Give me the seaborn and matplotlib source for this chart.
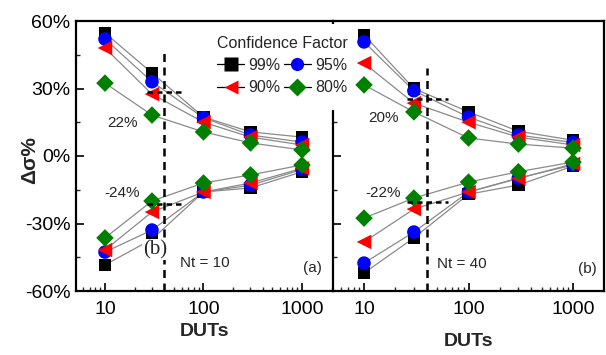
import numpy as np
import pandas as pd
import matplotlib
matplotlib.use("Agg")
import matplotlib.pyplot as plt
from matplotlib.lines import Line2D
from matplotlib.patches import Rectangle
from matplotlib.ticker import FixedLocator, FuncFormatter, LogLocator, NullFormatter
import seaborn as sns

sns.set_theme(style="white")
plt.rcParams["font.family"] = ["Liberation Sans", "DejaVu Sans"]

# Number of devices under test
duts = [10, 30, 100, 300, 1000]
confidence = ["99%", "95%", "90%", "80%"]

# Panel (a): Nt = 10 -- upper / lower bound of the sigma error (%)
a_upper_99 = [54.7, 36.9, 17.3, 10.7, 8.4]
a_upper_95 = [52.0, 33.0, 17.0, 9.3, 6.2]
a_upper_90 = [48.0, 27.5, 15.0, 8.4, 4.9]
a_upper_80 = [32.4, 18.2, 10.7, 5.8, 2.7]
a_lower_99 = [-48.4, -37.0, -16.0, -14.2, -7.0]
a_lower_95 = [-42.7, -32.9, -16.0, -13.0, -6.0]
a_lower_90 = [-41.8, -24.9, -16.0, -12.0, -5.5]
a_lower_80 = [-36.4, -20.0, -12.0, -8.4, -4.0]

# Panel (b): Nt = 40
b_upper_99 = [53.8, 30.0, 19.6, 11.0, 7.0]
b_upper_95 = [50.7, 29.0, 17.3, 9.3, 6.0]
b_upper_90 = [41.3, 23.5, 15.0, 8.4, 4.9]
b_upper_80 = [31.6, 19.6, 8.0, 5.3, 3.5]
b_lower_99 = [-52.0, -36.4, -17.0, -12.9, -4.5]
b_lower_95 = [-47.6, -33.8, -16.0, -9.8, -4.0]
b_lower_90 = [-38.2, -23.6, -16.0, -10.0, -3.5]
b_lower_80 = [-27.6, -18.7, -11.6, -7.0, -2.7]

# Reference cut at 40 DUTs and the bound reached there
cut_duts = 40
a_cut_bounds = [28.4, -21.5]
b_cut_bounds = [25.3, -20.5]
a_cut_labels = ["22%", "-24%"]
b_cut_labels = ["20%", "-22%"]

styles = {
    "99%": dict(marker="s", color="black", s=80),
    "95%": dict(marker="o", color="blue", s=95),
    "90%": dict(marker="<", color="red", s=110),
    "80%": dict(marker="D", color="green", s=80),
}


def build_frame(upper, lower):
    rows = []
    for cf, up, lo in zip(confidence, upper, lower):
        for x, u, l in zip(duts, up, lo):
            rows.append(dict(cf=cf, duts=x, branch="upper", dsigma=u))
            rows.append(dict(cf=cf, duts=x, branch="lower", dsigma=l))
    return pd.DataFrame(rows)


frame_a = build_frame([a_upper_99, a_upper_95, a_upper_90, a_upper_80],
                      [a_lower_99, a_lower_95, a_lower_90, a_lower_80])
frame_b = build_frame([b_upper_99, b_upper_95, b_upper_90, b_upper_80],
                      [b_lower_99, b_lower_95, b_lower_90, b_lower_80])

fig = plt.figure(figsize=(6.06, 3.55), dpi=100)
ax_a = fig.add_axes([76 / 606, 64 / 355, 257 / 606, 270 / 355])
ax_b = fig.add_axes([333 / 606, 64 / 355, 271 / 606, 270 / 355])


def draw_panel(ax, df, xlim):
    for cf in confidence:
        for branch in ["upper", "lower"]:
            sub = df[(df.cf == cf) & (df.branch == branch)]
            sns.lineplot(data=sub, x="duts", y="dsigma", ax=ax, color="#8a8a8a",
                         lw=0.9, estimator=None, sort=False, legend=False, zorder=2)
    for cf in confidence:
        st = styles[cf]
        sub = df[df.cf == cf]
        sns.scatterplot(data=sub, x="duts", y="dsigma", ax=ax, marker=st["marker"],
                        color=st["color"], s=st["s"], edgecolor="none",
                        legend=False, zorder=3)
    ax.set_xscale("log")
    ax.set_xlim(*xlim)
    ax.set_ylim(-60, 60)
    ax.xaxis.set_major_locator(FixedLocator([10, 100, 1000]))
    ax.xaxis.set_major_formatter(FuncFormatter(lambda v, p: f"{int(v)}"))
    ax.xaxis.set_minor_locator(LogLocator(base=10, subs=np.arange(2, 10)))
    ax.xaxis.set_minor_formatter(NullFormatter())
    ax.yaxis.set_major_locator(FixedLocator([-60, -30, 0, 30, 60]))
    ax.yaxis.set_minor_locator(FixedLocator([-45, -15, 15, 45]))
    ax.yaxis.set_major_formatter(FuncFormatter(lambda v, p: f"{int(v)}%"))
    ax.tick_params(which="major", direction="in", length=6, width=1.2,
                   labelsize=14, colors="black", pad=4)
    ax.tick_params(axis="x", which="major", pad=7)
    ax.tick_params(which="minor", direction="in", length=3, width=1.0)
    ax.tick_params(axis="x", which="both", bottom=True, top=False)
    ax.tick_params(axis="y", which="both", left=True, right=False)
    for sp in ax.spines.values():
        sp.set_color("black")
        sp.set_linewidth(1.6)
    ax.set_ylabel("")
    ax.set_facecolor("none")


def draw_cuts(ax, bounds, labels, vtop, hspan, label_x, label_ys):
    ax.plot([cut_duts, cut_duts], [-60, vtop], color="black", lw=1.8,
            ls=(0, (3.2, 2.2)), zorder=4)
    for b in bounds:
        ax.plot(hspan, [b, b], color="black", lw=1.8, ls=(0, (2.2, 1.6)), zorder=4)
    for t, y in zip(labels, label_ys):
        ax.text(label_x, y, t, ha="center", va="center", fontsize=11, zorder=5)


draw_panel(ax_a, frame_a, (5.08, 2064))
draw_panel(ax_b, frame_b, (5.05, 1979))
ax_a.spines["right"].set_visible(False)
ax_b.tick_params(axis="y", labelleft=False)

draw_cuts(ax_a, a_cut_bounds, a_cut_labels, 45.8, [26.7, 60.6], 14.9, [14.7, -16.4])
draw_cuts(ax_b, b_cut_bounds, b_cut_labels, 39.0, [25.8, 63.7], 15.2, [16.9, -16.4])

ax_a.text(32.2, -41.5, "(b)", ha="center", va="center", fontsize=15,
          family=["Liberation Serif", "DejaVu Serif"], zorder=6,
          bbox=dict(boxstyle="square,pad=0.05", fc="white", ec="none"))
ax_a.text(103, -47.6, "Nt = 10", ha="center", va="center", fontsize=11)
ax_a.text(1279, -49.8, "(a)", ha="center", va="center", fontsize=11)
ax_b.text(86.7, -48.0, "Nt = 40", ha="center", va="center", fontsize=11)
ax_b.text(1361, -50.2, "(b)", ha="center", va="center", fontsize=11)

ax_a.set_xlabel("DUTs", fontsize=14, fontweight="bold", labelpad=4)
ax_b.set_xlabel("DUTs", fontsize=14, fontweight="bold", labelpad=11)
fig.text(30 / 606, 1 - 160 / 355, "Δσ%", rotation=90, ha="center", va="center",
         fontsize=15, fontweight="bold")

# white area behind the legend, covering the shared spine
fig.patches.append(Rectangle((212 / 606, 1 - 110 / 355), 138 / 606, 86 / 355,
                             transform=fig.transFigure, fc="white", ec="none",
                             zorder=4))

handles = [Line2D([0], [0], color="black", lw=0.9, marker=styles[cf]["marker"],
                  markerfacecolor=styles[cf]["color"], markeredgecolor="none",
                  markersize=9.5) for cf in confidence]
order = [0, 2, 1, 3]
leg = fig.legend([handles[i] for i in order], [confidence[i] for i in order],
                 title="Confidence Factor", ncol=2, loc="upper left",
                 bbox_to_anchor=(212 / 606, 1 - 31 / 355), frameon=False,
                 fontsize=11.5, title_fontsize=11.5, handlelength=1.7,
                 handletextpad=0.25, columnspacing=0.2, labelspacing=0.45,
                 borderpad=0.3, borderaxespad=0)
leg.set_zorder(5)

fig.savefig("out.png", dpi=100)
